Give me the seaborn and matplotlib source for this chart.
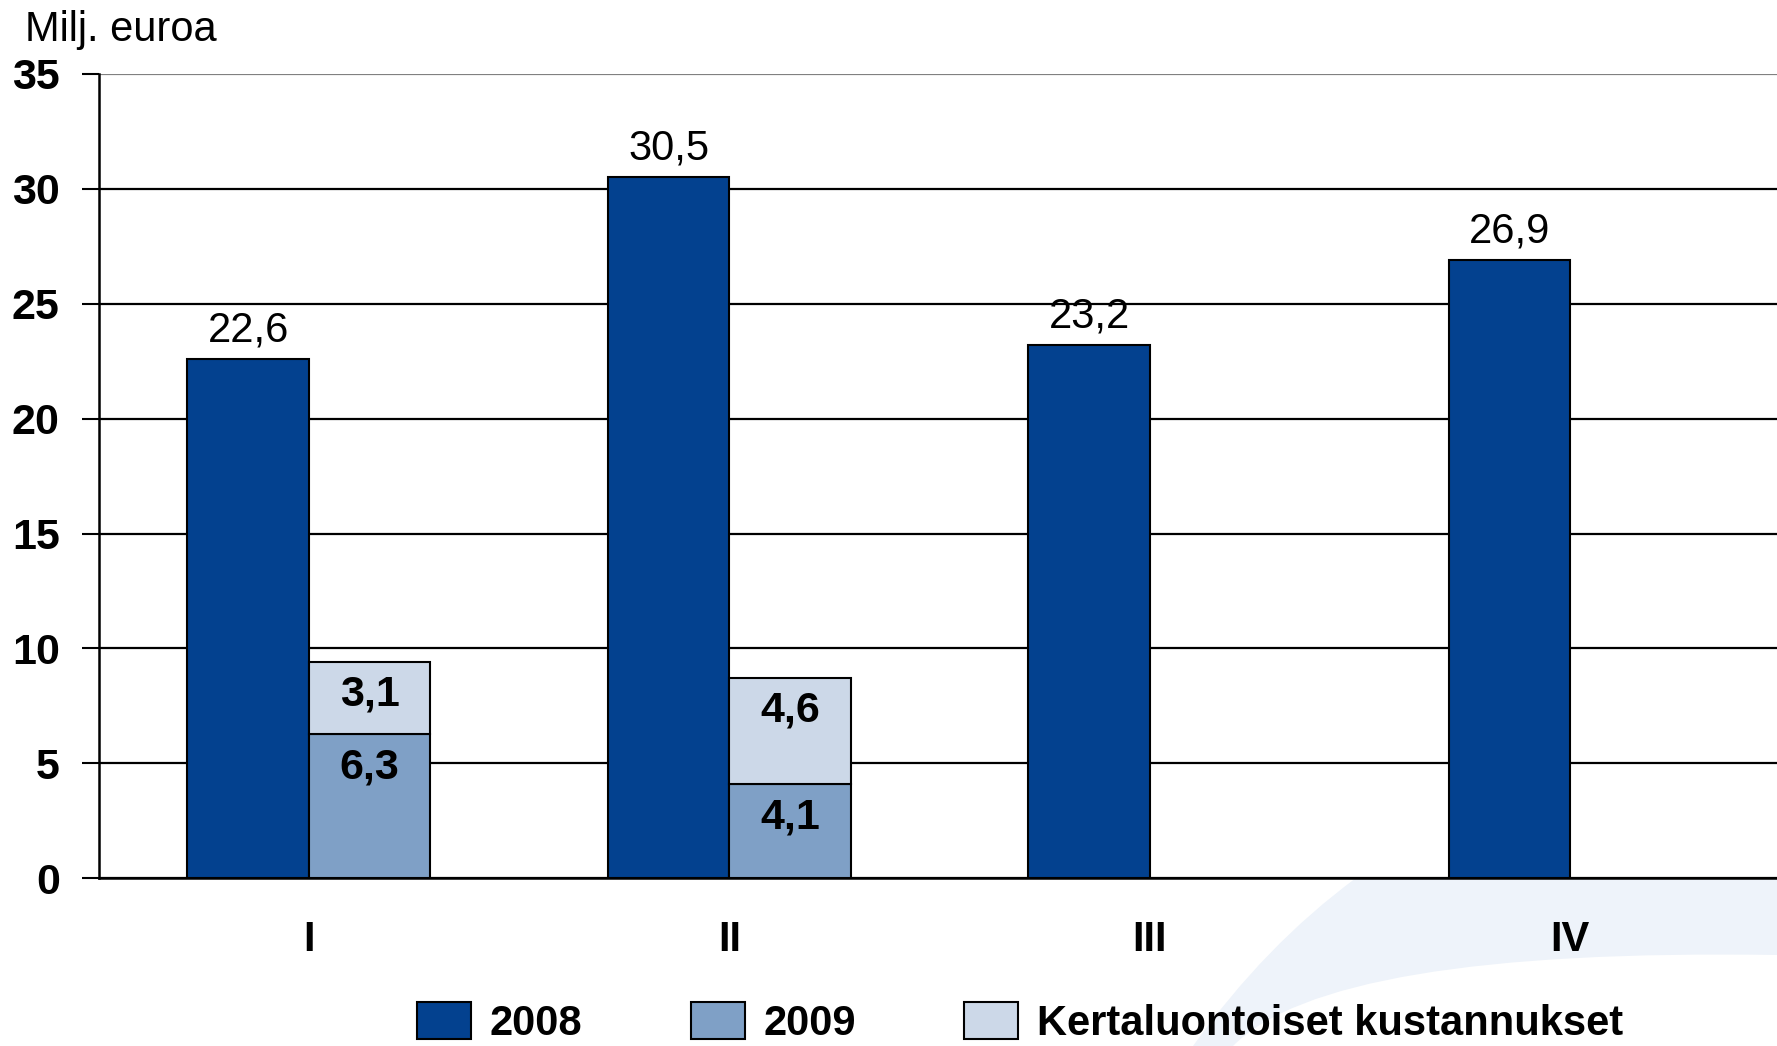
import numpy as np
import pandas as pd
import matplotlib
matplotlib.use("Agg")
import matplotlib.pyplot as plt
from matplotlib.patches import Patch, PathPatch
from matplotlib.path import Path
import seaborn as sns

quarters = ["I", "II", "III", "IV"]
v2008 = [22.6, 30.5, 23.2, 26.9]
v2009 = [6.3, 4.1, np.nan, np.nan]
vkerta = [3.1, 4.6, np.nan, np.nan]
series_names = ["2008", "2009", "Kertaluontoiset kustannukset"]
colors = ["#03418F", "#7FA0C6", "#CCD8E8"]

sns.set_theme(style="white")
plt.rcParams["font.family"] = ["Liberation Sans", "DejaVu Sans"]
plt.rcParams["text.color"] = "black"
plt.rcParams["xtick.color"] = "black"
plt.rcParams["ytick.color"] = "black"
plt.rcParams["axes.labelcolor"] = "black"

FS = 30

df = pd.DataFrame({
    "quarter": quarters * 2,
    "year": ["2008"] * 4 + ["2009"] * 4,
    "value": v2008 + v2009,
})

W, H = 1777, 1046
fig = plt.figure(figsize=(W / 100, H / 100), dpi=100)

# faint decorative swoosh in the lower right background
def fp(x, y):
    return (x / W, 1 - y / H)
verts = [fp(1193, 1046), fp(1265, 945), fp(1356, 878),
         fp(1777, 878), fp(1777, 955),
         fp(1330, 948), fp(1233, 1046), fp(1193, 1046)]
codes = [Path.MOVETO, Path.CURVE3, Path.CURVE3,
         Path.LINETO, Path.LINETO,
         Path.CURVE3, Path.CURVE3, Path.CLOSEPOLY]
fig.patches.append(PathPatch(Path(verts, codes), transform=fig.transFigure,
                             facecolor="#EEF3FA", edgecolor="none", zorder=-1))

ax = fig.add_axes([0.0555, 0.1603, 0.9465, 0.7692])

sns.barplot(data=df, x="quarter", y="value", hue="year", order=quarters,
            hue_order=["2008", "2009"], palette=colors[:2], width=0.578,
            saturation=1, errorbar=None, edgecolor="black", linewidth=1.5,
            ax=ax, legend=False, zorder=3)

# stacked one-time costs on top of 2009 bars
bars09 = [p for p in ax.containers[1]]
kx, kb, kv, kw = [], [], [], []
for p, base, k in zip(bars09, v2009, vkerta):
    if np.isnan(base) or np.isnan(k):
        continue
    kx.append(p.get_x() + p.get_width() / 2)
    kw.append(p.get_width())
    kb.append(base)
    kv.append(k)
ax.bar(kx, kv, bottom=kb, width=kw[0], color=colors[2], edgecolor="black",
       linewidth=1.5, zorder=3)

# labels
for p, v in zip(ax.containers[0], v2008):
    ax.annotate(f"{v:.1f}".replace(".", ","), (p.get_x() + p.get_width() / 2, v),
                xytext=(0, 6), textcoords="offset points", ha="center", va="bottom",
                fontsize=FS, zorder=5)
for p, v in zip(bars09, v2009):
    if np.isnan(v):
        continue
    ax.annotate(f"{v:.1f}".replace(".", ","), (p.get_x() + p.get_width() / 2, v),
                xytext=(0, -10), textcoords="offset points", ha="center", va="top",
                fontsize=31, fontweight="bold", zorder=5)
for x, b, k in zip(kx, kb, kv):
    ax.annotate(f"{k:.1f}".replace(".", ","), (x, b + k),
                xytext=(0, -9), textcoords="offset points", ha="center", va="top",
                fontsize=31, fontweight="bold", zorder=5)

ax.set_xlim(-0.5, 3.5)
ax.set_ylim(0, 35)
ax.set_yticks(range(0, 36, 5))
ax.set_yticklabels([str(t) for t in range(0, 36, 5)], fontsize=31, fontweight="bold")
ax.set_xticks(range(4))
ax.set_xticklabels(quarters, fontsize=FS, fontweight="bold")
ax.set_xticks([-0.5, 0.5, 1.5, 2.5], minor=True)
ax.tick_params(axis="x", which="major", length=0, pad=30)
ax.tick_params(axis="x", which="minor", length=10, width=1.5, color="black", direction="out")
ax.tick_params(axis="y", which="major", length=12, width=1.5, color="black", direction="out", pad=16, left=True)
ax.set_xlabel("")
ax.set_ylabel("")

ax.yaxis.grid(True, color="black", linewidth=1.6, zorder=0)
ax.set_axisbelow(True)
gl = ax.get_ygridlines()
gl[-1].set_color("#808080")
for s in ["top", "right"]:
    ax.spines[s].set_visible(False)
for s in ["left", "bottom"]:
    ax.spines[s].set_visible(True)
    ax.spines[s].set_color("black")
    ax.spines[s].set_linewidth(1.8)
ax.spines["bottom"].set_zorder(4)
ax.patch.set_alpha(0)

fig.text(0.014, 0.961, "Milj. euroa", fontsize=FS, va="baseline", ha="left")

handles = [Patch(facecolor=c, edgecolor="black", linewidth=1.5) for c in colors]
fig.legend(handles, series_names, loc="center", bbox_to_anchor=(0.574, 0.022),
           ncol=3, frameon=False, prop={"size": FS, "weight": "bold"},
           handlelength=1.3, handleheight=1.0, handletextpad=0.45, columnspacing=2.6,
           borderaxespad=0, borderpad=0)

fig.savefig("out.png", dpi=100)
